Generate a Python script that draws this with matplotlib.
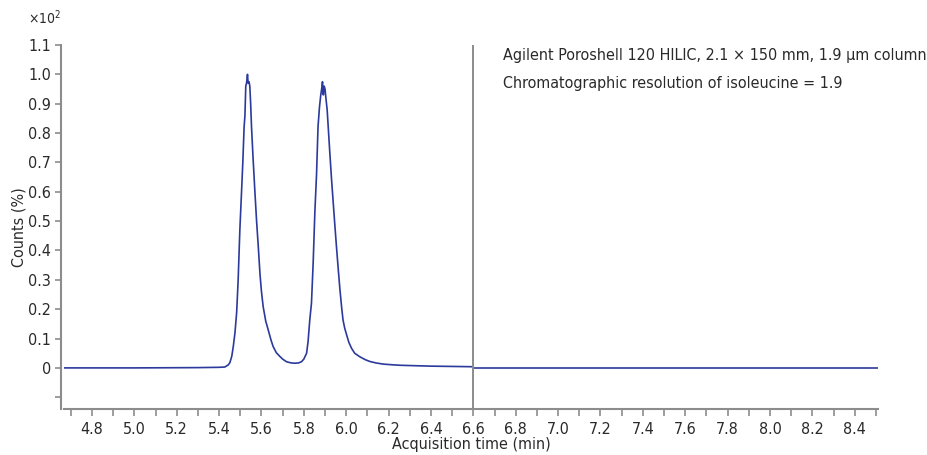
import matplotlib
matplotlib.use("Agg")
import matplotlib.pyplot as plt
from matplotlib import font_manager
from matplotlib.ticker import MultipleLocator, FixedLocator, FixedFormatter

names = {f.name for f in font_manager.fontManager.ttflist}
if 'Liberation Sans Narrow' in names:
    plt.rcParams['font.family'] = ['Liberation Sans Narrow', 'DejaVu Sans']
else:
    plt.rcParams['font.family'] = ['DejaVu Sans']
    plt.rcParams['font.stretch'] = 'condensed'

# trace before the 6.6 min segment break (counts x10^2 %)
time_a = [4.67, 5.00, 5.30, 5.40, 5.427, 5.443, 5.451, 5.460, 5.467, 5.475,
          5.483, 5.490, 5.498, 5.506, 5.512, 5.518, 5.522, 5.526, 5.530, 5.534,
          5.537, 5.541, 5.545, 5.549, 5.553, 5.560, 5.569, 5.577, 5.585, 5.593,
          5.600, 5.608, 5.620, 5.632, 5.645, 5.655, 5.670, 5.687, 5.700, 5.718,
          5.740, 5.758, 5.775, 5.789, 5.800, 5.813, 5.820, 5.828, 5.836, 5.844,
          5.852, 5.860, 5.867, 5.874, 5.880, 5.885, 5.888, 5.892, 5.896, 5.900,
          5.904, 5.910, 5.915, 5.922, 5.931, 5.938, 5.946, 5.954, 5.962, 5.970,
          5.978, 5.985, 5.993, 6.001, 6.012, 6.025, 6.040, 6.064, 6.090, 6.111,
          6.140, 6.174, 6.210, 6.253, 6.300, 6.400, 6.500, 6.598]
counts_a = [0.000, 0.000, 0.001, 0.002, 0.003, 0.010, 0.018, 0.040, 0.073, 0.120,
            0.190, 0.300, 0.470, 0.600, 0.700, 0.820, 0.860, 0.960, 0.972, 1.000,
            0.970, 0.975, 0.960, 0.900, 0.822, 0.720, 0.600, 0.500, 0.413, 0.320,
            0.260, 0.209, 0.160, 0.129, 0.095, 0.073, 0.052, 0.039, 0.030, 0.021,
            0.017, 0.016, 0.017, 0.021, 0.030, 0.050, 0.090, 0.163, 0.220, 0.357,
            0.530, 0.660, 0.822, 0.890, 0.930, 0.955, 0.975, 0.930, 0.960, 0.950,
            0.920, 0.880, 0.822, 0.740, 0.640, 0.570, 0.490, 0.413, 0.340, 0.270,
            0.209, 0.163, 0.135, 0.115, 0.088, 0.067, 0.050, 0.038, 0.028, 0.022,
            0.017, 0.013, 0.011, 0.009, 0.008, 0.006, 0.005, 0.004]

# trace after the break
time_b = [6.60, 7.50, 8.51]
counts_b = [-0.001, -0.001, -0.001]

break_time = 6.6
y_ticks = [1.1, 1.0, 0.9, 0.8, 0.7, 0.6, 0.5, 0.4, 0.3, 0.2, 0.1, 0.0, -0.1]
y_labels = ['1.1', '1.0', '0.9', '0.8', '0.7', '0.6', '0.5', '0.4', '0.3', '0.2', '0.1', '0', '']

line_color = '#2b3a9c'
grey = '#8c8c8c'
txt = '#2a2a2a'

fig = plt.figure(figsize=(9.28, 4.55), dpi=100)
ax = fig.add_axes([64 / 928, 1 - 409 / 455, 814 / 928, 364 / 455])

ax.plot(time_a, counts_a, color=line_color, lw=1.2)
ax.plot(time_b, counts_b, color=line_color, lw=1.2)
ax.axvline(break_time, color=grey, lw=1.4)

ax.set_xlim(4.668, 8.51)
ax.set_ylim(-0.14, 1.1)

ax.xaxis.set_major_locator(MultipleLocator(0.2))
ax.xaxis.set_minor_locator(MultipleLocator(0.1))
ax.xaxis.set_major_formatter(matplotlib.ticker.FormatStrFormatter('%.1f'))
ax.yaxis.set_major_locator(FixedLocator(y_ticks))
ax.yaxis.set_major_formatter(FixedFormatter(y_labels))

for s in ['top', 'right']:
    ax.spines[s].set_visible(False)
for s in ['left', 'bottom']:
    ax.spines[s].set_color(grey)
    ax.spines[s].set_linewidth(1.5)
ax.spines['left'].set_position(('outward', 2.2))

ax.tick_params(axis='both', which='both', color=grey, width=1.2, labelsize=11.5,
               labelcolor=txt, direction='out')
ax.tick_params(axis='x', which='both', length=5, pad=4)
ax.tick_params(axis='y', length=4, pad=3)

ax.set_xlabel('Acquisition time (min)', fontsize=11.5, color=txt, labelpad=0)
ax.set_ylabel('Counts (%)', fontsize=11.5, color=txt, labelpad=1)

fig.text(28 / 928, 1 - 18 / 455, '×10$^2$', fontsize=10, color=txt,
         ha='left', va='center')

ax.text(0.539, 0.970, 'Agilent Poroshell 120 HILIC, 2.1 × 150 mm, 1.9 µm column',
        transform=ax.transAxes, fontsize=11.5, color=txt, ha='left', va='center')
ax.text(0.539, 0.893, 'Chromatographic resolution of isoleucine = 1.9',
        transform=ax.transAxes, fontsize=11.5, color=txt, ha='left', va='center')

fig.savefig('out.png', dpi=100)
